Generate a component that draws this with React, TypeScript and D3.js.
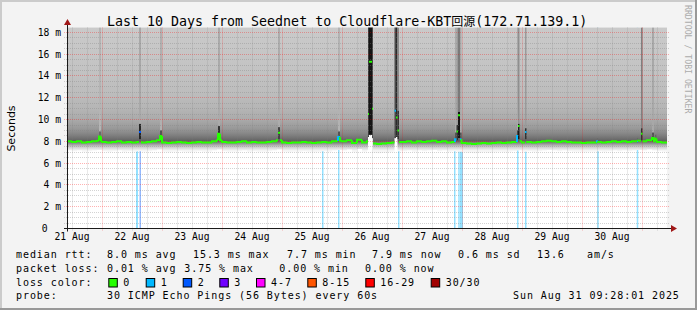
import React from "react";
import * as d3 from "d3";

// ---------- data ----------
const HOUR = 3600 * 1000;
const START = Date.UTC(2025, 7, 21, 10, 0, 0);
const END = Date.UTC(2025, 7, 31, 10, 0, 0);
const BIN_HOURS = 2;

const titleMain = "Last 10 Days from Seednet to Cloudflare-KBT";
const titleCjk = "回源";
const titleTail = "(172.71.139.1)";

const dayLabels = ["21 Aug", "22 Aug", "23 Aug", "24 Aug", "25 Aug", "26 Aug", "27 Aug", "28 Aug", "29 Aug", "30 Aug"];
const yTickValues = [0, 2, 4, 6, 8, 10, 12, 14, 16, 18];
const yTickLabels = ["0", "2 m", "4 m", "6 m", "8 m", "10 m", "12 m", "14 m", "16 m", "18 m"];

// median rtt (ms), 2-hour bins starting Aug 21 10:00
const medianMs = [
  8.0, 7.95, 8.0, 7.9, 7.95, 8.0, 8.05,
  7.95, 7.9, 7.95, 8.0, 7.9, 7.95, 7.9,
  7.95, 7.9, 7.95, 8.0, 8.1,
  7.9, 7.85, 7.9, 7.95, 7.9, 7.85, 7.9, 7.95, 7.9, 7.9, 8.0, 8.1,
  7.95, 7.9, 7.9, 7.95, 8.0, 7.9, 7.95, 7.9, 7.9, 7.95, 8.0, 8.1,
  7.9, 7.85, 7.9, 7.9, 7.95, 7.9, 7.85, 7.9, 7.95, 7.9, 8.0, 8.05,
  8.0, 8.1, 7.85, 8.15, 7.9, 8.0,
  7.8, 7.75, 7.8, 7.85, 7.9, 7.95,
  7.95, 8.0, 7.9, 8.0, 7.95, 8.0, 8.05, 7.95, 8.0, 7.9, 7.95, 7.9,
  7.85, 7.8, 7.75, 7.8, 7.85, 7.8, 7.85, 7.9, 7.85, 7.9, 7.95, 8.0,
  7.9, 7.95, 7.9, 7.95, 8.0, 8.05, 8.0, 7.95, 8.0, 7.95, 7.9, 7.9,
  7.85, 7.9, 7.9, 7.95, 7.9, 7.95, 8.0, 7.95, 8.0, 7.95, 8.0, 8.05,
  8.0, 8.1, 8.0, 7.95, 7.9,
];

// smoke density: rtt level (ms) -> grey tone
const smokeLevelsMs = [7.15, 7.3, 7.5, 7.7, 7.9, 8.05, 8.3, 8.7, 9.2, 10.0, 11.0, 12.5, 15.0, 18.5];
const smokeLevelGrays = ["#f6f6f6", "#e4e4e4", "#cacaca", "#a6a6a6", "#7c7c7c", "#626262", "#727272", "#868686", "#999999", "#aaaaaa", "#b5b5b5", "#bdbdbd", "#c4c4c4", "#cacaca"];
const smokeFloorMs = 7.15;
const smokeTopMs = 19.5;

// packet-loss bars: hour offset, duration (h), lost pings
const lossHours = [27.6, 29.0, 102, 108.4, 132.4, 154.8, 156.5, 157.2, 180, 183.2, 212.1, 227.9];
const lossDurations = [0.8, 0.4, 0.4, 0.4, 0.4, 0.4, 0.4, 1.2, 0.4, 0.4, 0.4, 0.4];
const lossCounts = [1, 2, 1, 1, 1, 1, 1, 1, 1, 1, 1, 1];

// latency spikes: hour, duration, median, lost pings, dark core range, colours, floor
type Spike = { h: number; w: number; med: number; loss: number; lo: number; hi: number; core: string; streak?: string; floor?: number };
const spikes: Spike[] = [
  { h: 12.8, w: 0.8, med: 8.45, loss: 0, lo: 8.1, hi: 8.9, core: "#6a6a6a", streak: "#b4b4b4" },
  { h: 28.8, w: 0.8, med: 8.85, loss: 2, lo: 8.2, hi: 9.6, core: "#262626", streak: "#a8a8a8" },
  { h: 37.2, w: 0.8, med: 8.5, loss: 0, lo: 8.1, hi: 9.0, core: "#555555", streak: "#b0b0b0" },
  { h: 60.4, w: 0.8, med: 8.7, loss: 0, lo: 8.1, hi: 9.4, core: "#333333", streak: "#aaaaaa" },
  { h: 84.4, w: 0.8, med: 8.8, loss: 0, lo: 8.2, hi: 9.3, core: "#444444", streak: "#acacac" },
  { h: 108.4, w: 0.8, med: 8.4, loss: 1, lo: 8.1, hi: 8.9, core: "#555555", streak: "#b2b2b2" },
  { h: 120.4, w: 0.4, med: 10.5, loss: 0, lo: 8.4, hi: 19.5, core: "#3a3a3a", floor: 8.4 },
  { h: 120.8, w: 1.2, med: 15.3, loss: 0, lo: 8.6, hi: 19.5, core: "#151515", floor: 8.6 },
  { h: 122.0, w: 0.4, med: 11.0, loss: 0, lo: 8.3, hi: 19.5, core: "#3a3a3a", floor: 8.3 },
  { h: 131.0, w: 0.6, med: 10.8, loss: 1, lo: 8.3, hi: 19.5, core: "#4a4a4a", floor: 8.3 },
  { h: 131.6, w: 0.6, med: 10.2, loss: 0, lo: 8.4, hi: 19.5, core: "#2a2a2a", floor: 8.4 },
  { h: 132.2, w: 0.6, med: 9.0, loss: 0, lo: 8.2, hi: 10.8, core: "#333333", streak: "#8a8a8a" },
  { h: 155.2, w: 0.6, med: 8.2, loss: 1, lo: 8.0, hi: 8.8, core: "#555555", streak: "#aaaaaa" },
  { h: 155.8, w: 0.6, med: 8.9, loss: 0, lo: 8.1, hi: 9.5, core: "#333333", streak: "#9a9a9a" },
  { h: 156.4, w: 0.8, med: 10.4, loss: 0, lo: 8.3, hi: 10.7, core: "#151515", streak: "#7a7a7a" },
  { h: 157.2, w: 0.6, med: 8.2, loss: 1, lo: 8.0, hi: 8.8, core: "#555555", streak: "#aaaaaa" },
  { h: 180.0, w: 0.4, med: 8.5, loss: 1, lo: 8.0, hi: 9.0, core: "#444444", streak: "#a8a8a8" },
  { h: 180.4, w: 0.6, med: 9.4, loss: 0, lo: 8.2, hi: 9.6, core: "#1a1a1a", streak: "#909090" },
  { h: 183.2, w: 0.6, med: 8.85, loss: 1, lo: 8.2, hi: 9.2, core: "#333333", streak: "#9a9a9a" },
  { h: 212.0, w: 0.4, med: 8.0, loss: 1, lo: 7.9, hi: 8.3, core: "#666666" },
  { h: 228.0, w: 0.4, med: 8.0, loss: 1, lo: 7.9, hi: 8.3, core: "#666666" },
  { h: 229.6, w: 0.6, med: 8.7, loss: 0, lo: 8.1, hi: 9.2, core: "#333333", streak: "#808080" },
  { h: 234.0, w: 0.8, med: 8.3, loss: 0, lo: 8.0, hi: 8.8, core: "#555555", streak: "#a8a8a8" },
  { h: 235.2, w: 0.6, med: 8.25, loss: 0, lo: 8.0, hi: 8.6, core: "#666666" },
];

const lossLegendLabels = ["0", "1", "2", "3", "4-7", "8-15", "16-29", "30/30"];
const lossLegendColors = ["#26ff00", "#00b8ff", "#0059ff", "#7000ff", "#ff00ff", "#ff5500", "#ff0000", "#a00000"];

const rttStats = ["8.0 ms avg", "15.3 ms max", "7.7 ms min", "7.9 ms now", "0.6 ms sd", "13.6", "am/s"];
const lossStats = ["0.01 % avg", "3.75 % max", "0.00 % min", "0.00 % now"];
const probeText = "30 ICMP Echo Pings (56 Bytes) every 60s";
const stampText = "Sun Aug 31 09:28:01 2025";

// ---------- layout ----------
const W = 697;
const H = 310;
const PLOT_L = 67;
const PLOT_R = 667;
const PLOT_T = 27.5;
const PLOT_B = 228.5;
const rttX = [107, 193, 287, 372, 458, 537, 587];
const lossX = [107, 184.3, 279.3, 365];
const boxX = [108.3, 145.7, 182.7, 219.3, 256, 307.3, 365.3, 430.7];
const MONO = "'DejaVu Sans Mono', monospace";

const r2 = (v: number) => Math.round(v * 1000) / 1000;
const crisp = (v: number) => Math.round(v - 0.5) + 0.5;

export default function App() {
  const x = d3.scaleUtc().domain([new Date(START), new Date(END)]).range([PLOT_L, PLOT_R]);
  const xh = (h: number) => x(new Date(START + h * HOUR));
  const y = d3.scaleLinear().domain([0, 18.45]).range([PLOT_B, PLOT_T]);

  // smoke envelope
  const bins = medianMs.map((m, i) => ({ t: i * BIN_HOURS, m }));
  bins.push({ t: medianMs.length * BIN_HOURS, m: medianMs[medianMs.length - 1] });
  const smokePath = d3
    .area<{ t: number; m: number }>()
    .x((d) => xh(d.t))
    .y0((d) => y(smokeFloorMs + d.m - 8))
    .y1(() => y(smokeTopMs))
    .curve(d3.curveStepAfter)(bins) as string;
  const gradTop = y(smokeLevelsMs[smokeLevelsMs.length - 1]);
  const gradBot = y(smokeLevelsMs[0]);

  // median segments
  const bp = new Set<number>();
  for (let i = 0; i <= medianMs.length; i++) bp.add(i * BIN_HOURS);
  spikes.forEach((s) => {
    bp.add(r2(s.h));
    bp.add(r2(s.h + s.w));
  });
  const ts = Array.from(bp).sort((a, b) => a - b);
  const segs: { a: number; b: number; v: number; loss: number }[] = [];
  for (let k = 0; k < ts.length - 1; k++) {
    const a = ts[k];
    const b = ts[k + 1];
    const sp = spikes.find((s) => a >= r2(s.h) - 1e-6 && a < r2(s.h + s.w) - 1e-6);
    const bi = Math.min(medianMs.length - 1, Math.floor(a / BIN_HOURS + 1e-6));
    segs.push({ a, b, v: sp ? sp.med : medianMs[bi], loss: sp ? sp.loss : 0 });
  }
  const lossColor = (n: number) =>
    n <= 0 ? lossLegendColors[0] : n === 1 ? lossLegendColors[1] : n === 2 ? lossLegendColors[2] : n === 3 ? lossLegendColors[3] : n < 8 ? lossLegendColors[4] : n < 16 ? lossLegendColors[5] : n < 30 ? lossLegendColors[6] : lossLegendColors[7];

  // grid
  const dayLines = d3.utcDay.range(new Date(START + 1), new Date(END));
  const minorV = d3.utcHour.every(6)!.range(new Date(START + 1), new Date(END)).filter((d) => d.getUTCHours() !== 0);
  const minorH: number[] = [];
  for (let v = 0.5; v < 18.45; v += 0.5) if (Math.abs(v / 2 - Math.round(v / 2)) > 1e-6) minorH.push(v);
  const majorH = yTickValues.filter((v) => v > 0);
  const firstMidnight = d3.utcDay.floor(new Date(START));
  const labelDates = dayLabels.map((_, i) => d3.utcHour.offset(d3.utcDay.offset(firstMidnight, i), 12));

  const yAxisX = PLOT_L + 0.5;
  const xAxisY = crisp(PLOT_B);
  const minorStroke = "rgba(130,130,130,0.35)";
  const majorStroke = "rgba(255,0,0,0.3)";

  return (
    <svg width={W} height={H} style={{ position: "absolute", left: 0, top: 0, display: "block" }} xmlns="http://www.w3.org/2000/svg">
      <defs>
        <clipPath id="canvas">
          <rect x={PLOT_L} y={PLOT_T} width={PLOT_R - PLOT_L} height={PLOT_B - PLOT_T} />
        </clipPath>
        <linearGradient id="smoke" gradientUnits="userSpaceOnUse" x1={0} x2={0} y1={gradBot} y2={gradTop}>
          {smokeLevelsMs.map((v, i) => (
            <stop key={"st" + i} offset={(gradBot - y(v)) / (gradBot - gradTop)} stopColor={smokeLevelGrays[i]} />
          ))}
        </linearGradient>
      </defs>
      {/* background + 3D frame */}
      <rect x={0} y={0} width={W} height={H} fill="#f3f3f3" />
      <rect x={0} y={0} width={W} height={2} fill="#cbcbcb" />
      <rect x={0} y={0} width={2} height={H} fill="#cbcbcb" />
      <rect x={0} y={H - 2} width={W} height={2} fill="#999999" />
      <rect x={W - 2} y={0} width={2} height={H} fill="#999999" />

      {/* canvas */}
      <rect x={PLOT_L} y={PLOT_T} width={PLOT_R - PLOT_L} height={PLOT_B - PLOT_T} fill="#ffffff" />

      <g clipPath="url(#canvas)">
        {/* loss bars */}
        {lossHours.map((h, i) => (
          <rect key={"lb" + i} x={xh(h)} y={PLOT_T} width={Math.max(1.5, xh(h + lossDurations[i]) - xh(h))} height={PLOT_B - PLOT_T} fill={lossColor(lossCounts[i])} fillOpacity={0.42} />
        ))}
        {/* smoke */}
        <path d={smokePath} fill="url(#smoke)" />
        {/* spike columns */}
        {spikes.map((s, i) => {
          const x0 = xh(s.h);
          const w = Math.max(1, xh(s.h + s.w) - x0);
          return (
            <g key={"sp" + i}>
              {s.floor !== undefined && <rect x={x0} y={y(s.floor)} width={w} height={y(6.8) - y(s.floor)} fill="#ffffff" />}
              {s.streak && <rect x={x0} y={PLOT_T} width={w} height={y(s.hi) - PLOT_T} fill={s.streak} />}
              <rect x={x0} y={y(s.hi)} width={w} height={y(s.lo) - y(s.hi)} fill={s.core} />
            </g>
          );
        })}
      </g>

      {/* grid */}
      <g strokeWidth={1} strokeDasharray="1,1" fill="none">
        {minorH.map((v) => (
          <line key={"mh" + v} x1={PLOT_L - 3} x2={PLOT_R + 3} y1={crisp(y(v))} y2={crisp(y(v))} stroke={minorStroke} />
        ))}
        {minorV.map((d) => (
          <line key={"mv" + d.getTime()} x1={crisp(x(d))} x2={crisp(x(d))} y1={PLOT_T} y2={PLOT_B + 3} stroke={minorStroke} />
        ))}
        {majorH.map((v) => (
          <line key={"Mh" + v} x1={PLOT_L - 3} x2={PLOT_R + 3} y1={crisp(y(v))} y2={crisp(y(v))} stroke={majorStroke} />
        ))}
        {dayLines.map((d) => (
          <line key={"Mv" + d.getTime()} x1={crisp(x(d))} x2={crisp(x(d))} y1={PLOT_T} y2={PLOT_B + 3} stroke={majorStroke} />
        ))}
      </g>

      {/* median line coloured by loss */}
      <g fill="none" strokeWidth={2} clipPath="url(#canvas)">
        {segs.map((s, k) => {
          const pv = k > 0 ? segs[k - 1].v : s.v;
          const join = Math.abs(pv - s.v) < 0.6;
          const d = join ? `M${xh(s.a)},${y(pv)}V${y(s.v)}H${xh(s.b)}` : `M${xh(s.a)},${y(s.v)}H${xh(s.b)}`;
          return <path key={"md" + k} d={d} stroke={lossColor(s.loss)} />;
        })}
      </g>

      {/* axes */}
      <line x1={PLOT_L - 3} x2={PLOT_R + 5} y1={xAxisY} y2={xAxisY} stroke="#1a1a1a" />
      <path d={`M${PLOT_R + 4},${xAxisY - 3.5}L${PLOT_R + 10},${xAxisY}L${PLOT_R + 4},${xAxisY + 3.5}Z`} fill="#a01818" />
      <line x1={yAxisX} x2={yAxisX} y1={PLOT_B + 3} y2={PLOT_T - 3} stroke="#1a1a1a" />
      <path d={`M${yAxisX - 3.5},${PLOT_T - 2.5}L${yAxisX},${PLOT_T - 8.5}L${yAxisX + 3.5},${PLOT_T - 2.5}Z`} fill="#a01818" />

      {/* tick labels */}
      <g fontFamily={MONO} fontSize={9.7} fill="#000">
        {yTickValues.map((v, i) => (
          <text key={"yt" + v} x={v === 0 ? 47.5 : 61} y={y(v)} dy="0.35em" textAnchor="end">
            {yTickLabels[i]}
          </text>
        ))}
        {dayLabels.map((lab, i) => (
          <text key={"xt" + i} x={x(labelDates[i])} y={239.8} textAnchor="middle">
            {lab}
          </text>
        ))}
      </g>

      {/* axis title */}
      <text transform="translate(15,128.5) rotate(-90)" textAnchor="middle" fontFamily="'DejaVu Sans', sans-serif" fontSize={11} fill="#000">
        Seconds
      </text>

      {/* title */}
      <text x={107} y={26.3} fontFamily={MONO + ", 'Noto Sans CJK TC'"} fontSize={13.3} fill="#000">
        {titleMain}
        <tspan fontFamily="'Noto Sans CJK TC'" fontSize={12}>{titleCjk}</tspan>
        {titleTail}
      </text>

      {/* watermark */}
      <text transform="translate(685,5) rotate(90)" fontFamily={MONO} fontSize={8.2} fill="#ababab">
        RRDTOOL / TOBI OETIKER
      </text>

      {/* legend */}
      <g fontFamily={MONO} fontSize={10} fill="#000" style={{ letterSpacing: "0.93px" }}>
        <text x={16} y={257.5}>median rtt:</text>
        {rttStats.map((s, i) => (
          <text key={"rs" + i} x={rttX[i]} y={257.5}>{s}</text>
        ))}
        <text x={16} y={271.5}>packet loss:</text>
        {lossStats.map((s, i) => (
          <text key={"ls" + i} x={lossX[i]} y={271.5}>{s}</text>
        ))}
        <text x={16} y={285.5}>loss color:</text>
        {lossLegendLabels.map((lab, i) => (
          <g key={"lg" + i}>
            <rect x={boxX[i] + 0.5} y={278.5} width={8.5} height={8.5} fill={lossLegendColors[i]} stroke="#000" strokeWidth={1} />
            <text x={boxX[i] + 15} y={285.5}>{lab}</text>
          </g>
        ))}
        <text x={16} y={299.3}>probe:</text>
        <text x={107} y={299.3}>{probeText}</text>
        <text x={513} y={299.3}>{stampText}</text>
      </g>
    </svg>
  );
}
